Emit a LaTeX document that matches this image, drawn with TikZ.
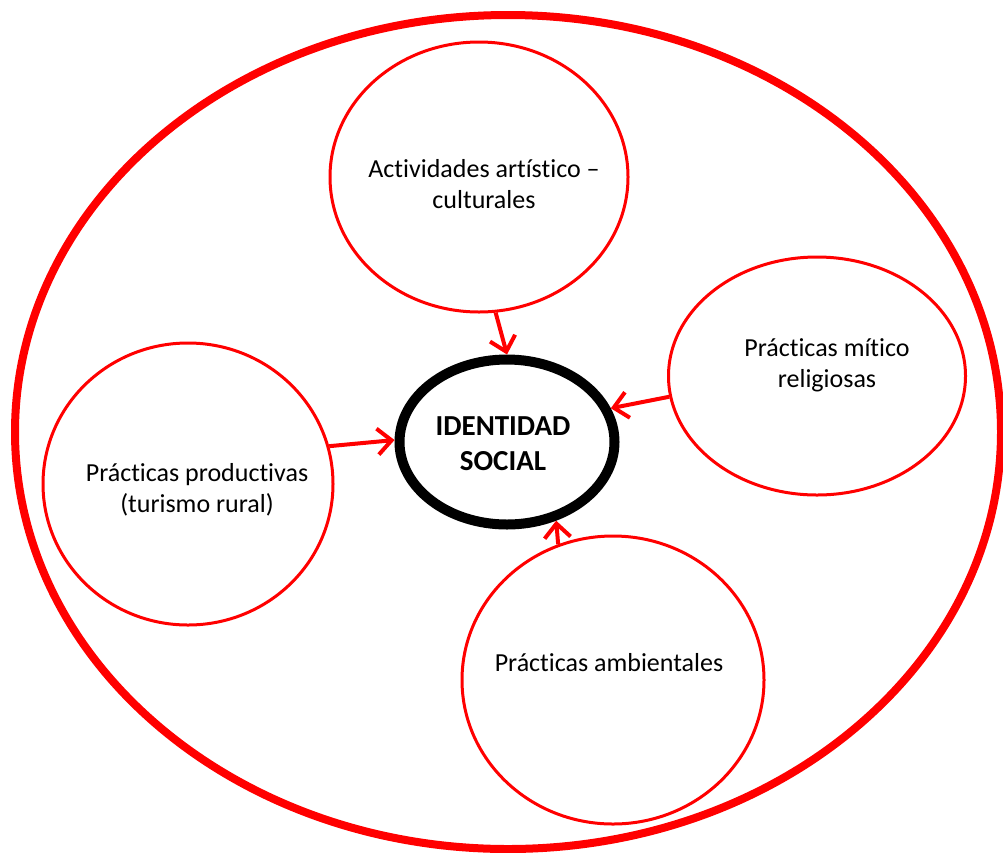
\documentclass[tikz,border=0pt]{standalone}
\usepackage{fontspec}
\setmainfont{Carlito}[Ligatures={NoCommon,NoContextual}]
\usetikzlibrary{shapes.geometric,arrows.meta}
\tikzset{
  bubble/.style={draw=red, line width=3pt, ellipse, inner sep=0pt},
  lbl/.style={align=center, font=\fontsize{26}{31}\selectfont, text=black, inner sep=0pt},
  arr/.style={draw=red, line width=4pt, -{Straight Barb[length=14pt,width=26pt,line width=4pt]}},
}
\begin{document}
\begin{tikzpicture}[x=1pt,y=-1pt]
\useasboundingbox (0,0) rectangle (1003,852);
\fill[white] (0,0) rectangle (1003,852);
% outer ellipse
\node[draw=red, line width=8pt, ellipse, inner sep=0pt, minimum width=986pt, minimum height=834pt] (outer) at (508,432) {};
% bubbles
\node[bubble, minimum width=298pt, minimum height=270pt] (top) at (479,177) {};
\node[bubble, minimum width=297pt, minimum height=238pt] (right) at (817,376) {};
\node[bubble, minimum width=290pt, minimum height=282pt] (left) at (188,484) {};
\node[bubble, minimum width=302pt, minimum height=288pt] (bottom) at (613,680) {};
% centre
\node[draw=black, line width=10pt, ellipse, inner sep=0pt, minimum width=215pt, minimum height=165pt] (center) at (507,442) {};
% labels
\node[lbl] (ttop) at (484,184) {Actividades artístico –\\culturales};
\node[lbl] (tright) at (827,365) {Prácticas mítico\\religiosas};
\node[lbl] (tleft) at (197,490) {Prácticas productivas\\(turismo rural)};
\node[lbl] (tbottom) at (609,663) {Prácticas ambientales};
\node[lbl, font=\fontsize{29}{35}\selectfont\bfseries] (tcenter) at (503,444) {IDENTIDAD\\SOCIAL};
% arrows
\draw[arr] (top.-83) -- (center.90);
\draw[arr] (right.188) -- (center.18);
\draw[arr] (left.15) -- (center.179);
\draw[arr] (bottom.112) -- (center.-58);
\end{tikzpicture}
\end{document}
